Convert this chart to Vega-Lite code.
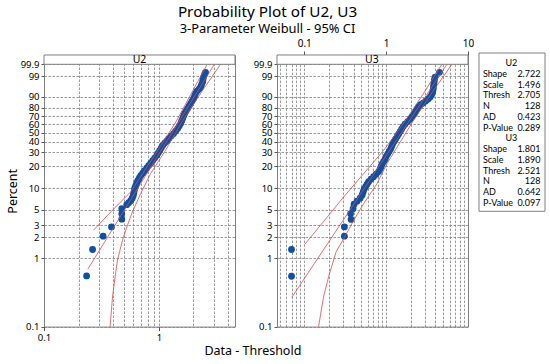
{
  "$schema": "https://vega.github.io/schema/vega-lite/v6.json",
  "background": "white",
  "padding": {"left": 5, "right": 3, "top": 5, "bottom": 2},
  "config": {
    "font": "Noto Sans",
    "view": {"stroke": "#808080", "strokeWidth": 1},
    "axis": {"domain": false, "labelFontSize": 9.5, "labelColor": "#000000", "tickColor": "#555555", "tickSize": 3, "labelPadding": 2, "gridColor": "#808080", "gridDash": [2.5, 1.5], "gridWidth": 0.8, "gridOpacity": 1, "titleFontWeight": "normal", "titleFontSize": 12.5, "titleColor": "#000000", "tickCount": 100},
    "title": {"color": "#000000", "subtitleColor": "#000000"}
  },
  "title": {"text": "Probability Plot of U2, U3", "subtitle": "3-Parameter Weibull - 95% CI", "fontSize": 15.3, "fontWeight": "normal", "subtitleFontSize": 12.9, "subtitlePadding": 2, "anchor": "middle", "offset": 3, "dx": -8},
  "datasets": {
    "points": [
      {"panel":"U2","x":0.2349,"z":-5.200},{"panel":"U2","x":0.2647,"z":-4.309},{"panel":"U2","x":0.3271,"z":-3.861},{"panel":"U2","x":0.3870,"z":-3.547},{"panel":"U2","x":0.4754,"z":-3.287},{"panel":"U2","x":0.4754,"z":-3.101},{"panel":"U2","x":0.4754,"z":-2.933},{"panel":"U2","x":0.5254,"z":-2.798},{"panel":"U2","x":0.5468,"z":-2.730},{"panel":"U2","x":0.5690,"z":-2.663},{"panel":"U2","x":0.5863,"z":-2.578},{"panel":"U2","x":0.5981,"z":-2.494},{"panel":"U2","x":0.6041,"z":-2.410},{"panel":"U2","x":0.6103,"z":-2.325},{"panel":"U2","x":0.6163,"z":-2.241},{"panel":"U2","x":0.6288,"z":-2.157},{"panel":"U2","x":0.6415,"z":-2.072},{"panel":"U2","x":0.6546,"z":-1.988},{"panel":"U2","x":0.6745,"z":-1.904},{"panel":"U2","x":0.6950,"z":-1.819},{"panel":"U2","x":0.7233,"z":-1.735},{"panel":"U2","x":0.7527,"z":-1.651},{"panel":"U2","x":0.7834,"z":-1.566},{"panel":"U2","x":0.8155,"z":-1.482},{"panel":"U2","x":0.8487,"z":-1.398},{"panel":"U2","x":0.8835,"z":-1.313},{"panel":"U2","x":0.9194,"z":-1.229},{"panel":"U2","x":0.9570,"z":-1.145},{"panel":"U2","x":0.9861,"z":-1.060},{"panel":"U2","x":1.016,"z":-0.976},{"panel":"U2","x":1.047,"z":-0.891},{"panel":"U2","x":1.079,"z":-0.807},{"panel":"U2","x":1.123,"z":-0.723},{"panel":"U2","x":1.169,"z":-0.655},{"panel":"U2","x":1.216,"z":-0.571},{"panel":"U2","x":1.279,"z":-0.487},{"panel":"U2","x":1.344,"z":-0.402},{"panel":"U2","x":1.399,"z":-0.318},{"panel":"U2","x":1.456,"z":-0.234},{"panel":"U2","x":1.501,"z":-0.149},{"panel":"U2","x":1.546,"z":-0.065},{"panel":"U2","x":1.578,"z":0.020},{"panel":"U2","x":1.609,"z":0.104},{"panel":"U2","x":1.642,"z":0.188},{"panel":"U2","x":1.675,"z":0.273},{"panel":"U2","x":1.726,"z":0.357},{"panel":"U2","x":1.778,"z":0.441},{"panel":"U2","x":1.832,"z":0.526},{"panel":"U2","x":1.888,"z":0.610},{"panel":"U2","x":1.945,"z":0.694},{"panel":"U2","x":2.005,"z":0.779},{"panel":"U2","x":2.045,"z":0.863},{"panel":"U2","x":2.086,"z":0.947},{"panel":"U2","x":2.150,"z":1.032},{"panel":"U2","x":2.238,"z":1.099},{"panel":"U2","x":2.306,"z":1.167},{"panel":"U2","x":2.353,"z":1.251},{"panel":"U2","x":2.400,"z":1.335},{"panel":"U2","x":2.424,"z":1.420},{"panel":"U2","x":2.448,"z":1.504},{"panel":"U2","x":2.498,"z":1.589},{"panel":"U2","x":2.548,"z":1.663},
      {"panel":"U3","x":0.06995,"z":-5.210},{"panel":"U3","x":0.06995,"z":-4.309},{"panel":"U3","x":0.3093,"z":-3.861},{"panel":"U3","x":0.3093,"z":-3.547},{"panel":"U3","x":0.3734,"z":-3.297},{"panel":"U3","x":0.3681,"z":-3.101},{"panel":"U3","x":0.3950,"z":-2.933},{"panel":"U3","x":0.4063,"z":-2.781},{"panel":"U3","x":0.4418,"z":-2.680},{"panel":"U3","x":0.4811,"z":-2.578},{"panel":"U3","x":0.5088,"z":-2.477},{"panel":"U3","x":0.5233,"z":-2.376},{"panel":"U3","x":0.5383,"z":-2.275},{"panel":"U3","x":0.5616,"z":-2.190},{"panel":"U3","x":0.5858,"z":-2.106},{"panel":"U3","x":0.6110,"z":-2.022},{"panel":"U3","x":0.6555,"z":-1.937},{"panel":"U3","x":0.7034,"z":-1.853},{"panel":"U3","x":0.7548,"z":-1.769},{"panel":"U3","x":0.8097,"z":-1.684},{"panel":"U3","x":0.8447,"z":-1.600},{"panel":"U3","x":0.8687,"z":-1.516},{"panel":"U3","x":0.8937,"z":-1.431},{"panel":"U3","x":0.9320,"z":-1.347},{"panel":"U3","x":0.9723,"z":-1.263},{"panel":"U3","x":1.000,"z":-1.178},{"panel":"U3","x":1.043,"z":-1.094},{"panel":"U3","x":1.088,"z":-1.010},{"panel":"U3","x":1.135,"z":-0.925},{"panel":"U3","x":1.167,"z":-0.841},{"panel":"U3","x":1.201,"z":-0.757},{"panel":"U3","x":1.253,"z":-0.672},{"panel":"U3","x":1.306,"z":-0.588},{"panel":"U3","x":1.363,"z":-0.503},{"panel":"U3","x":1.422,"z":-0.419},{"panel":"U3","x":1.483,"z":-0.335},{"panel":"U3","x":1.547,"z":-0.250},{"panel":"U3","x":1.614,"z":-0.166},{"panel":"U3","x":1.707,"z":-0.082},{"panel":"U3","x":1.832,"z":0.003},{"panel":"U3","x":1.965,"z":0.087},{"panel":"U3","x":2.079,"z":0.171},{"panel":"U3","x":2.199,"z":0.256},{"panel":"U3","x":2.294,"z":0.340},{"panel":"U3","x":2.393,"z":0.424},{"panel":"U3","x":2.497,"z":0.509},{"panel":"U3","x":2.641,"z":0.576},{"panel":"U3","x":2.833,"z":0.627},{"panel":"U3","x":3.040,"z":0.694},{"panel":"U3","x":3.262,"z":0.762},{"panel":"U3","x":3.451,"z":0.829},{"panel":"U3","x":3.599,"z":0.914},{"panel":"U3","x":3.703,"z":0.998},{"panel":"U3","x":3.754,"z":1.082},{"panel":"U3","x":3.786,"z":1.167},{"panel":"U3","x":3.818,"z":1.251},{"panel":"U3","x":3.862,"z":1.335},{"panel":"U3","x":3.895,"z":1.420},{"panel":"U3","x":3.972,"z":1.504},{"panel":"U3","x":4.483,"z":1.663}
    ],
    "lines": [
      {"panel":"U2","curve":"fit","x":0.2406,"z":-4.974},{"panel":"U2","curve":"fit","x":3.04,"z":1.9326},
      {"panel":"U2","curve":"upper","x":0.2700,"z":-3.658},{"panel":"U2","curve":"upper","x":0.3816,"z":-3.041},{"panel":"U2","curve":"upper","x":0.5690,"z":-2.366},{"panel":"U2","curve":"upper","x":0.9666,"z":-1.0},{"panel":"U2","curve":"upper","x":1.413,"z":0.0},{"panel":"U2","curve":"upper","x":1.945,"z":1.0},{"panel":"U2","curve":"upper","x":2.636,"z":1.9326},
      {"panel":"U2","curve":"lower","x":0.3762,"z":-6.907},{"panel":"U2","curve":"lower","x":0.3948,"z":-5.909},{"panel":"U2","curve":"lower","x":0.4158,"z":-5.234},{"panel":"U2","curve":"lower","x":0.4362,"z":-4.670},{"panel":"U2","curve":"lower","x":0.4822,"z":-3.996},{"panel":"U2","curve":"lower","x":0.5329,"z":-3.489},{"panel":"U2","curve":"lower","x":0.5888,"z":-3.041},{"panel":"U2","curve":"lower","x":0.6950,"z":-2.420},{"panel":"U2","curve":"lower","x":0.8487,"z":-1.745},{"panel":"U2","curve":"lower","x":1.146,"z":-0.959},{"panel":"U2","curve":"lower","x":1.594,"z":0.0},{"panel":"U2","curve":"lower","x":2.353,"z":1.0},{"panel":"U2","curve":"lower","x":3.440,"z":1.9326},
      {"panel":"U3","curve":"fit","x":0.0703,"z":-5.929},{"panel":"U3","curve":"fit","x":5.527,"z":1.9326},
      {"panel":"U3","curve":"upper","x":0.1009,"z":-4.147},{"panel":"U3","curve":"upper","x":0.3040,"z":-2.535},{"panel":"U3","curve":"upper","x":0.9374,"z":-0.959},{"panel":"U3","curve":"upper","x":1.688,"z":0.0},{"panel":"U3","curve":"upper","x":2.939,"z":1.0},{"panel":"U3","curve":"upper","x":4.797,"z":1.9326},
      {"panel":"U3","curve":"lower","x":0.1496,"z":-6.907},{"panel":"U3","curve":"lower","x":0.1721,"z":-5.909},{"panel":"U3","curve":"lower","x":0.1982,"z":-5.234},{"panel":"U3","curve":"lower","x":0.2447,"z":-4.390},{"panel":"U3","curve":"lower","x":0.3040,"z":-3.938},{"panel":"U3","curve":"lower","x":0.4029,"z":-3.321},{"panel":"U3","curve":"lower","x":0.5339,"z":-2.757},{"panel":"U3","curve":"lower","x":0.7762,"z":-2.083},{"panel":"U3","curve":"lower","x":1.029,"z":-1.408},{"panel":"U3","curve":"lower","x":2.114,"z":0.0},{"panel":"U3","curve":"lower","x":3.681,"z":1.0},{"panel":"U3","curve":"lower","x":6.357,"z":1.9326}
    ],
    "stats": [
      {"group":"U2","row":1,"key":"Shape","val":"2.722"},{"group":"U2","row":2,"key":"Scale","val":"1.496"},{"group":"U2","row":3,"key":"Thresh","val":"2.705"},{"group":"U2","row":4,"key":"N","val":"128"},{"group":"U2","row":5,"key":"AD","val":"0.423"},{"group":"U2","row":6,"key":"P-Value","val":"0.289"},
      {"group":"U3","row":8,"key":"Shape","val":"1.801"},{"group":"U3","row":9,"key":"Scale","val":"1.890"},{"group":"U3","row":10,"key":"Thresh","val":"2.521"},{"group":"U3","row":11,"key":"N","val":"128"},{"group":"U3","row":12,"key":"AD","val":"0.642"},{"group":"U3","row":13,"key":"P-Value","val":"0.097"}
    ],
    "statHeads": [{"row":0,"label":"U2"},{"row":7,"label":"U3"}]
  },
  "spacing": 3,
  "hconcat": [
    {
      "title": {"text": "Data - Threshold", "orient": "bottom", "fontSize": 12.5, "fontWeight": "normal", "anchor": "middle", "offset": 2, "dx": 13},
      "spacing": 16,
      "hconcat": [
        {
          "width": 191, "height": 271.6,
          "resolve": {"axis": {"x": "independent"}},
          "layer": [
            {
              "data": {"name": "points"},
              "transform": [{"filter": "datum.panel == 'U2'"}],
              "mark": {"type": "circle", "size": 46, "color": "#0D50A4", "opacity": 1},
              "encoding": {
                "x": {"field": "x", "type": "quantitative", "scale": {"type": "log", "domain": [0.1, 4.6], "nice": false},
                  "axis": {"orient": "bottom", "title": null, "values": [0.1,0.2,0.3,0.4,0.5,0.6,0.7,0.8,0.9,1,2,3,4], "labelExpr": "datum.value == 0.1 ? '0.1' : datum.value == 1 ? '1' : ''", "tickOpacity": {"condition": {"test": "datum.value == 0.1 || datum.value == 1", "value": 1}, "value": 0}, "tickSize": 4, "labelFlush": false, "labelOverlap": false, "grid": true, "tickCount": 100}},
                "y": {"field": "z", "type": "quantitative", "scale": {"domain": [-6.90726, 2.2464], "nice": false, "zero": false},
                  "axis": {"title": "Percent", "titlePadding": 3, "values": [-6.90726,-4.60015,-3.90194,-3.49137,-2.9702,-2.25037,-1.49994,-1.03093,-0.67173,-0.36651,-0.08742,0.18563,0.47588,0.83403,1.52718,1.93264], "labelExpr": "format(100*(1-exp(-exp(datum.value))), '.1~f')", "labelOverlap": false, "labelFlush": false, "minExtent": 22, "maxExtent": 22, "grid": true, "tickCount": 100}}
              }
            },
            {
              "data": {"name": "lines"},
              "transform": [{"filter": "datum.panel == 'U2'"}],
              "mark": {"type": "line", "color": "#DD4B4B", "strokeWidth": 0.8},
              "encoding": {
                "x": {"field": "x", "type": "quantitative", "axis": {"orient": "top", "title": null, "labels": false, "grid": false, "ticks": true, "tickSize": 16, "tickOpacity": 0, "values": [1]}},
                "y": {"field": "z", "type": "quantitative"},
                "detail": {"field": "curve"},
                "order": {"field": "z", "type": "quantitative"}
              }
            },
            {
              "data": {"values": [{"label": "U2"}]},
              "mark": {"type": "rect", "fill": "white", "stroke": "#808080", "strokeWidth": 1},
              "encoding": {
                "x": {"datum": 0.1, "type": "quantitative", "axis": null}, "x2": {"datum": 4.6},
                "y": {"datum": 1.93264, "type": "quantitative"}, "y2": {"datum": 2.2464}
              }
            },
            {
              "data": {"values": [{"label": "U2"}]},
              "mark": {"type": "text", "fontSize": 10.5, "baseline": "middle", "align": "center", "color": "#000000"},
              "encoding": {
                "x": {"datum": 0.678, "type": "quantitative", "axis": null},
                "y": {"datum": 2.0895, "type": "quantitative"},
                "text": {"field": "label"}
              }
            }
          ]
        },
        {
          "width": 191, "height": 271.6,
          "layer": [
            {
              "data": {"name": "points"},
              "transform": [{"filter": "datum.panel == 'U3'"}],
              "mark": {"type": "circle", "size": 46, "color": "#0D50A4", "opacity": 1},
              "encoding": {
                "x": {"field": "x", "type": "quantitative", "scale": {"type": "log", "domain": [0.0465, 10], "nice": false},
                  "axis": {"orient": "top", "title": null, "values": [0.05,0.06,0.07,0.08,0.09,0.1,0.2,0.3,0.4,0.5,0.6,0.7,0.8,0.9,1,2,3,4,5,6,7,8,9,10], "labelExpr": "datum.value == 0.1 ? '0.1' : datum.value == 1 ? '1' : datum.value == 10 ? '10' : ''", "tickOpacity": {"condition": {"test": "datum.value == 0.1 || datum.value == 1 || datum.value == 10", "value": 1}, "value": 0}, "tickSize": 4, "labelFontSize": 10, "labelFlush": false, "labelOverlap": false, "grid": true, "tickCount": 100}},
                "y": {"field": "z", "type": "quantitative", "scale": {"domain": [-6.90726, 2.2464], "nice": false, "zero": false},
                  "axis": {"title": null, "values": [-6.90726,-4.60015,-3.90194,-3.49137,-2.9702,-2.25037,-1.49994,-1.03093,-0.67173,-0.36651,-0.08742,0.18563,0.47588,0.83403,1.52718,1.93264], "labelExpr": "format(100*(1-exp(-exp(datum.value))), '.1~f')", "labelOverlap": false, "labelFlush": false, "minExtent": 22, "maxExtent": 22, "grid": true, "tickCount": 100}}
              }
            },
            {
              "data": {"name": "lines"},
              "transform": [{"filter": "datum.panel == 'U3'"}],
              "mark": {"type": "line", "color": "#DD4B4B", "strokeWidth": 0.8},
              "encoding": {
                "x": {"field": "x", "type": "quantitative"},
                "y": {"field": "z", "type": "quantitative"},
                "detail": {"field": "curve"},
                "order": {"field": "z", "type": "quantitative"}
              }
            },
            {
              "data": {"values": [{"label": "U3"}]},
              "mark": {"type": "rect", "fill": "white", "stroke": "#808080", "strokeWidth": 1},
              "encoding": {
                "x": {"datum": 0.0465, "type": "quantitative"}, "x2": {"datum": 10},
                "y": {"datum": 1.93264, "type": "quantitative"}, "y2": {"datum": 2.2464}
              }
            },
            {
              "data": {"values": [{"label": "U3"}]},
              "mark": {"type": "text", "fontSize": 10.5, "baseline": "middle", "align": "center", "color": "#000000"},
              "encoding": {
                "x": {"datum": 0.67, "type": "quantitative"},
                "y": {"datum": 2.0895, "type": "quantitative"},
                "text": {"field": "label"}
              }
            }
          ]
        }
      ]
    },
    {
      "width": 66, "height": 271.6,
      "view": {"stroke": null},
      "layer": [
        {
          "data": {"values": [{"box": "stats"}]},
          "mark": {"type": "rect", "fill": "white", "stroke": "#808080", "strokeWidth": 1},
          "encoding": {
            "x": {"datum": 0, "type": "quantitative", "scale": {"domain": [0, 1], "nice": false, "zero": false},
              "axis": {"orient": "top", "title": null, "labels": false, "grid": false, "domain": false, "ticks": true, "tickSize": 16, "tickOpacity": 0, "values": [0.5]}},
            "x2": {"datum": 1},
            "y": {"datum": -0.93, "type": "quantitative", "scale": {"domain": [-0.743, 24.475], "nice": false, "zero": false, "reverse": true}, "axis": null},
            "y2": {"datum": 13.77}
          }
        },
        {
          "data": {"name": "statHeads"},
          "mark": {"type": "text", "font": "Lato", "fontSize": 9, "align": "center", "baseline": "middle", "color": "#000000"},
          "encoding": {
            "x": {"datum": 0.49, "type": "quantitative"},
            "y": {"field": "row", "type": "quantitative", "axis": null},
            "text": {"field": "label"}
          }
        },
        {
          "data": {"name": "stats"},
          "mark": {"type": "text", "font": "Lato", "fontSize": 9, "align": "left", "baseline": "middle", "color": "#000000"},
          "encoding": {
            "x": {"datum": 0.06, "type": "quantitative"},
            "y": {"field": "row", "type": "quantitative", "axis": null},
            "text": {"field": "key"}
          }
        },
        {
          "data": {"name": "stats"},
          "mark": {"type": "text", "font": "Lato", "fontSize": 9, "align": "right", "baseline": "middle", "color": "#000000"},
          "encoding": {
            "x": {"datum": 0.93, "type": "quantitative"},
            "y": {"field": "row", "type": "quantitative", "axis": null},
            "text": {"field": "val"}
          }
        }
      ]
    }
  ]
}
